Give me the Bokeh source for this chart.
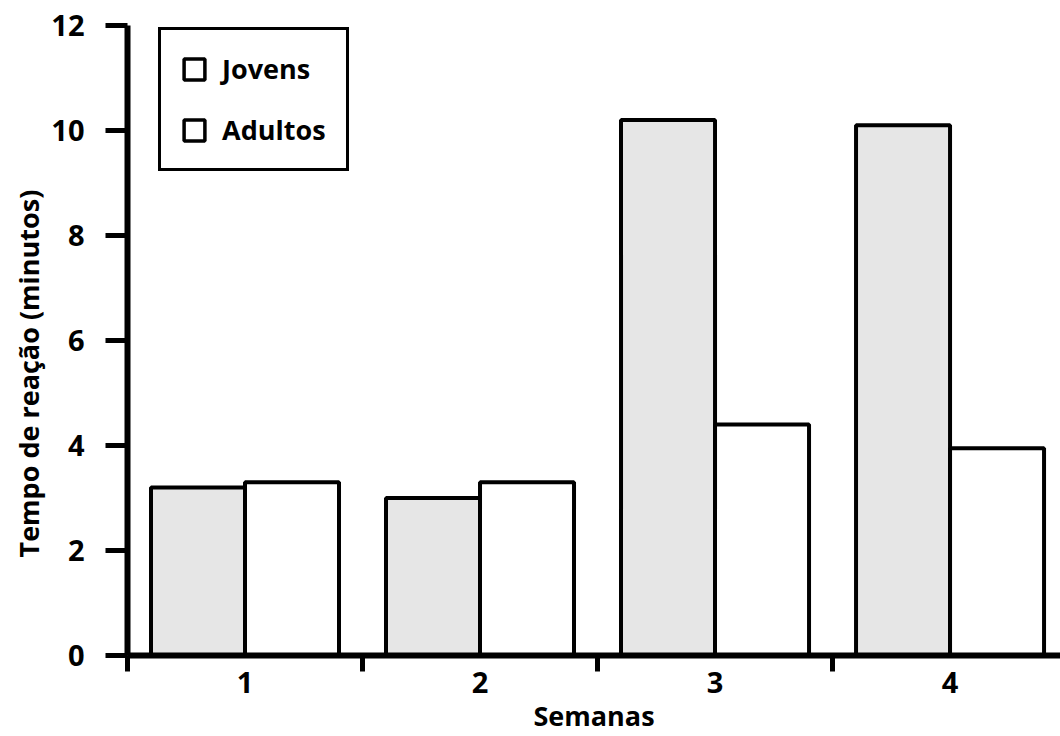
from bokeh.plotting import figure
from bokeh.models import ColumnDataSource, FixedTicker, Legend, LegendItem, Range1d, Title
from bokeh.embed import file_html
from bokeh.resources import INLINE

# Reaction time (minutes) per week for two age groups
semanas = [1, 2, 3, 4]
jovens = [3.2, 3.0, 10.2, 10.1]
adultos = [3.3, 3.3, 4.4, 3.95]
y_ticks = [0, 2, 4, 6, 8, 10, 12]
serie_labels = ["Jovens", "Adultos"]
y_title = "Tempo de reação (minutos)"
x_title = "Semanas"

FONT = "Open Sans"
BAR_W = 0.4

src_j = ColumnDataSource(dict(x=[s - BAR_W / 2 for s in semanas], top=jovens))
src_a = ColumnDataSource(dict(x=[s + BAR_W / 2 for s in semanas], top=adultos))

p = figure(width=1060, height=736, output_backend="svg", toolbar_location=None,
           x_range=Range1d(0.5, 4.47), y_range=Range1d(0, 12),
           min_border_left=127, min_border_right=0, min_border_top=25,
           min_border_bottom=81)

p.vbar(x="x", top="top", width=BAR_W, bottom=0, source=src_j,
       fill_color="#e6e6e6", line_color="black", line_width=4)
p.vbar(x="x", top="top", width=BAR_W, bottom=0, source=src_a,
       fill_color="white", line_color="black", line_width=4)

# hollow swatches for the legend, placed outside the visible range
dummy_j = p.vbar(x=[-10], top=[1], width=0.1, fill_color="white",
                 line_color="black", line_width=3.5)
dummy_a = p.vbar(x=[-10], top=[1], width=0.1, fill_color="white",
                 line_color="black", line_width=3.5)

legend = Legend(items=[LegendItem(label=serie_labels[0], renderers=[dummy_j]),
                       LegendItem(label=serie_labels[1], renderers=[dummy_a])],
                location=(31, 484), orientation="vertical",
                border_line_color="black", border_line_width=3,
                border_line_alpha=1,
                background_fill_color="white", background_fill_alpha=1,
                glyph_width=26, glyph_height=26, label_height=30,
                label_standoff=15, spacing=24, padding=20, margin=0,
                label_text_font=FONT, label_text_font_style="bold",
                label_text_font_size="27px", label_text_color="black")
p.add_layout(legend)

p.xgrid.visible = False
p.ygrid.visible = False
p.outline_line_color = None

# x axis: labels at week centres, tick marks at group boundaries
p.xaxis.ticker = FixedTicker(ticks=semanas, minor_ticks=[0.5, 1.5, 2.5, 3.5, 4.5])
p.xaxis.major_tick_line_color = None
p.xaxis.minor_tick_line_color = "black"
p.xaxis.minor_tick_line_width = 5
p.xaxis.minor_tick_out = 16
p.xaxis.minor_tick_in = 0
p.xaxis.axis_label = x_title
p.xaxis.major_label_standoff = 0
p.xaxis.axis_label_standoff = 1

p.yaxis.ticker = FixedTicker(ticks=y_ticks)
p.yaxis.minor_tick_line_color = None
p.yaxis.major_tick_line_color = "black"
p.yaxis.major_tick_line_width = 5
p.yaxis.major_tick_out = 22
p.yaxis.major_tick_in = 0
p.yaxis.major_label_standoff = 21

for ax in (p.xaxis, p.yaxis):
    ax.axis_line_width = 6
    ax.axis_line_color = "black"
    ax.major_label_text_font = FONT
    ax.major_label_text_font_style = "bold"
    ax.major_label_text_font_size = "29px"
    ax.major_label_text_color = "black"
    ax.axis_label_text_font = FONT
    ax.axis_label_text_font_style = "bold"
    ax.axis_label_text_font_size = "27px"
    ax.axis_label_text_color = "black"

# vertical title, starting a little above the frame's bottom
p.add_layout(Title(text=y_title, align="left", offset=98, standoff=4,
                   text_font=FONT, text_font_style="bold",
                   text_font_size="27px", text_color="black"), "left")

open("out.html", "w").write(file_html(p, INLINE))
